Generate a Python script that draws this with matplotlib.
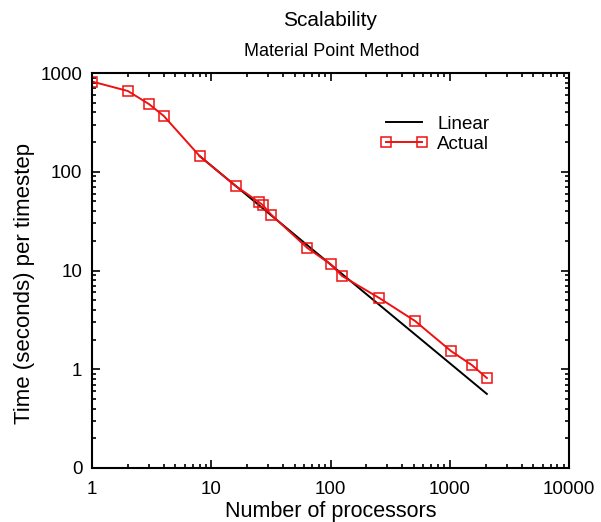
import matplotlib
matplotlib.use("Agg")
import matplotlib.pyplot as plt
from matplotlib.ticker import LogLocator, FuncFormatter, NullFormatter

plt.rcParams['font.family'] = ['Liberation Sans', 'DejaVu Sans']

processors = [1, 2, 3, 4, 8, 16, 25, 27, 32, 64, 100, 125, 256, 512, 1024, 1536, 2048]
actual_time = [820, 657, 485, 367, 144, 71.8, 49.4, 46, 36.5, 16.9, 11.6, 8.8, 5.27, 3.08, 1.53, 1.10, 0.815]
linear_procs = [8, 2048]
linear_time = [144, 144 * 8 / 2048]

fig = plt.figure(figsize=(6.01, 5.22), dpi=100)
ax = fig.add_axes([92 / 601, 1 - 468 / 522, (569 - 92) / 601, (468 - 73) / 522])

ax.plot(linear_procs, linear_time, color='black', lw=1.4, label='Linear')
ax.plot(processors, actual_time, color='#ee1111', lw=1.4, marker='s', ms=7.5,
        mfc='none', mec='#ee1111', mew=1.1, label='Actual')

ax.set_xscale('log')
ax.set_yscale('log')
ax.set_xlim(1, 10000)
ax.set_ylim(0.1, 1000)

ax.xaxis.set_major_locator(LogLocator(base=10, numticks=10))
ax.yaxis.set_major_locator(LogLocator(base=10, numticks=10))
ax.xaxis.set_minor_locator(LogLocator(base=10, subs=range(2, 10), numticks=20))
ax.yaxis.set_minor_locator(LogLocator(base=10, subs=range(2, 10), numticks=20))
ax.xaxis.set_minor_formatter(NullFormatter())
ax.yaxis.set_minor_formatter(NullFormatter())
ax.xaxis.set_major_formatter(FuncFormatter(lambda v, p: f"{v:.0f}"))
ax.yaxis.set_major_formatter(FuncFormatter(lambda v, p: "0" if v < 0.5 else f"{v:.0f}"))

ax.tick_params(which='both', direction='in', top=True, right=True, labelsize=13.5, width=1.2)
ax.tick_params(axis='x', which='major', length=6, pad=9)
ax.tick_params(axis='y', which='major', length=6, pad=7)
ax.tick_params(which='minor', length=3)
for s in ax.spines.values():
    s.set_linewidth(1.5)

ax.set_xlabel('Number of processors', fontsize=15.5)
ax.set_ylabel('Time (seconds) per timestep', fontsize=16)
ax.xaxis.set_label_coords(0.5, -(511 - 468) / 395, transform=ax.transAxes)
ax.yaxis.set_label_coords(-(92 - 25) / 477, (468 - 283) / 395, transform=ax.transAxes)
ax.xaxis.label.set_va('center')
ax.yaxis.label.set_va('center')

fig.text(330 / 601, 1 - 20 / 522, 'Scalability', ha='center', va='center', fontsize=15)
fig.text(332 / 601, 1 - 52 / 522, 'Material Point Method', ha='center', va='center', fontsize=13)

ax.legend(loc='upper right', bbox_to_anchor=(0.868, 0.935), frameon=False, fontsize=13.5,
          numpoints=2, handlelength=2.5, handletextpad=0.5, labelspacing=0.15)

fig.savefig('out.png', dpi=100)
